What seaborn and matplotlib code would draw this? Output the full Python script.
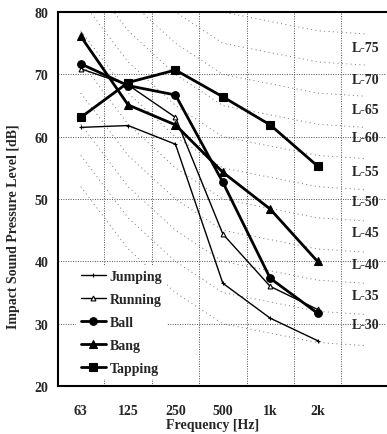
import numpy as np
import pandas as pd
import matplotlib
matplotlib.use("Agg")
import matplotlib.pyplot as plt
import seaborn as sns

# ---- data ----
freq_labels = ["63", "125", "250", "500", "1k", "2k"]
jumping = [61.5, 61.8, 58.8, 36.5, 30.9, 27.3]
running = [70.9, 68.3, 63.1, 44.4, 36.0, 32.3]
ball = [71.7, 68.2, 66.7, 52.7, 37.3, 31.7]
bang = [76.1, 65.1, 61.9, 54.3, 48.4, 40.0]
tapping = [63.1, 68.7, 70.7, 66.4, 61.9, 55.3]

# L-curve reference shape (offset from N) at 63,125,250,500,1k,2k,4k
lcurve_offsets = [22, 12, 5, 0, -1.5, -3, -3.5]
lcurve_numbers = [30, 35, 40, 45, 50, 55, 60, 65, 70, 75, 80]
lcurve_labels = ["L-75", "L-70", "L-65", "L-60", "L-55", "L-50", "L-45", "L-40", "L-35", "L-30"]
lcurve_label_vals = [74.3, 69.2, 64.4, 59.8, 54.4, 49.6, 44.7, 39.5, 34.6, 29.9]

series = {"Jumping": jumping, "Running": running, "Ball": ball, "Bang": bang, "Tapping": tapping}
rows = []
for name, vals in series.items():
    for i, v in enumerate(vals):
        rows.append({"series": name, "x": i, "level": v})
df = pd.DataFrame(rows)

sns.set_theme(style="white")
plt.rcParams['font.family'] = ['Liberation Serif', 'DejaVu Serif']
plt.rcParams['font.weight'] = 'bold'

fig = plt.figure(figsize=(3.87, 4.35), dpi=100)
ax = fig.add_axes([0.150, 0.110, 0.848, 0.860])

# L curves
for n in lcurve_numbers:
    yv = [n + o for o in lcurve_offsets]
    ax.plot(range(7), yv, color="0.45", lw=0.7, ls=(0, (1, 3.5)), zorder=1)

styles = {
    "Jumping": dict(marker="+", ms=3.5, lw=1.0, mfc="black"),
    "Running": dict(marker="^", ms=3.5, lw=1.0, mfc="white"),
    "Ball": dict(marker="o", ms=5.5, lw=2.0, mfc="black"),
    "Bang": dict(marker="^", ms=6, lw=2.0, mfc="black"),
    "Tapping": dict(marker="s", ms=5.5, lw=2.0, mfc="black"),
}
for name in series:
    sub = df[df.series == name]
    st = styles[name]
    sns.lineplot(data=sub, x="x", y="level", ax=ax, color="black",
                 marker=st["marker"], markersize=st["ms"], linewidth=st["lw"],
                 markerfacecolor=st["mfc"], markeredgecolor="black",
                 markeredgewidth=0.8, label=name, zorder=3)

ax.set_xlim(-0.48, 6.45)
ax.set_ylim(20, 80)
ax.set_xticks(range(6))
ax.set_xticklabels(freq_labels)
ax.set_yticks(range(20, 81, 10))
ax.set_xticks(np.arange(0.5, 6.0, 1.0), minor=True)
ax.tick_params(axis="x", which="major", length=0, pad=13, labelsize=10)
ax.tick_params(axis="x", which="minor", length=3, direction="in")
ax.tick_params(axis="y", which="major", length=0, pad=7, labelsize=10)
for lbl in ax.get_xticklabels() + ax.get_yticklabels():
    lbl.set_fontweight("bold")

ax.grid(False)
for v in np.arange(0.5, 6.0, 1.0):
    ax.axvline(v, color="0.3", lw=0.7, ls=(0, (1, 1.5)), zorder=0.5)
for h in range(30, 80, 10):
    ax.axhline(h, color="0.3", lw=0.7, ls=(0, (1, 1.5)), zorder=0.5)

for lab, val in zip(lcurve_labels, lcurve_label_vals):
    ax.text(5.72, val, lab, fontsize=10, fontweight="bold", va="center", ha="left",
            zorder=4)

ax.set_xlabel("Frequency [Hz]", fontsize=10, fontweight="bold")
ax.set_ylabel("Impact Sound Pressure Level [dB]", fontsize=10, fontweight="bold")
ax.xaxis.set_label_coords(0.47, -0.085)
ax.yaxis.set_label_coords(-0.115, 0.43)

for s in ["left", "bottom", "top"]:
    ax.spines[s].set_color("black")
    ax.spines[s].set_linewidth(1.5)
    ax.spines[s].set_zorder(6)
ax.spines["right"].set_visible(False)

leg = ax.legend(loc="lower left", bbox_to_anchor=(0.035, 0.0), frameon=True,
                facecolor="white", edgecolor="none", framealpha=1.0,
                handlelength=1.8, handletextpad=0.3, labelspacing=0.72,
                borderpad=0.3, prop={"weight": "bold", "size": 10})
leg.set_zorder(5)

fig.savefig("out.png", dpi=100)
